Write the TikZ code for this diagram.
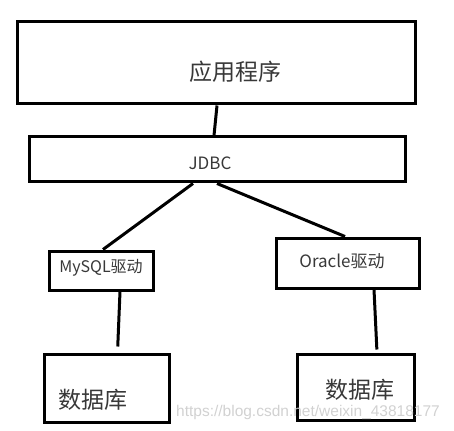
\documentclass[tikz,border=0pt]{standalone}
\usepackage{fontspec}
\setmainfont{Noto Sans CJK SC}
\newfontfamily\wmfont{Liberation Sans}
\begin{document}
\begin{tikzpicture}[x=1pt,y=-1pt,
  box/.style={draw=black,line width=3pt,rectangle,inner sep=0pt},
  conn/.style={draw=black,line width=3pt},
  lbl/.style={text=black!78,inner sep=0pt}]
\useasboundingbox (0,0) rectangle (454,430);
% boxes
\node[box,minimum width=398pt,minimum height=82pt] (app) at (216,63) {};
\node[box,minimum width=376pt,minimum height=45pt] (jdbc) at (217,159.5) {};
\node[box,minimum width=104pt,minimum height=39pt] (mysql) at (101,270.5) {};
\node[box,minimum width=143pt,minimum height=50pt] (oracle) at (347.5,263) {};
\node[box,minimum width=125pt,minimum height=68pt] (db1) at (106.5,388) {};
\node[box,minimum width=117pt,minimum height=66pt] (db2) at (355.5,387) {};
% texts
\node[lbl,font=\fontsize{23}{26}\selectfont] (appt) at (235,72) {应用程序};
\node[lbl,font=\fontsize{17}{20}\selectfont] (jdbct) at (210,163) {JDBC};
\node[lbl,font=\fontsize{16}{19}\selectfont] (mysqlt) at (101,268) {MySQL驱动};
\node[lbl,font=\fontsize{17}{20}\selectfont] (oraclet) at (342,261) {Oracle驱动};
\node[lbl,font=\fontsize{23}{26}\selectfont] (db1t) at (93,400) {数据库};
\node[lbl,font=\fontsize{23}{26}\selectfont] (db2t) at (360,390) {数据库};
\node[text=black!18,inner sep=0pt,font=\wmfont\fontsize{15.5}{18}\selectfont] (wm) at (308,412) {https://blog.csdn.net/weixin\_43818177};
% connectors
\draw[conn] ([xshift=1pt]app.south) -- ([xshift=-3pt]jdbc.north);
\draw[conn] ([xshift=-24pt]jdbc.south) -- ([xshift=2pt]mysql.north);
\draw[conn] (jdbc.south) -- ([xshift=-2.5pt]oracle.north);
\draw[conn,shorten >=6pt] ([xshift=19pt]mysql.south) -- ([xshift=11pt]db1.north);
\draw[conn,shorten >=3pt] ([xshift=26.5pt]oracle.south) -- ([xshift=21.5pt]db2.north);
\end{tikzpicture}
\end{document}
